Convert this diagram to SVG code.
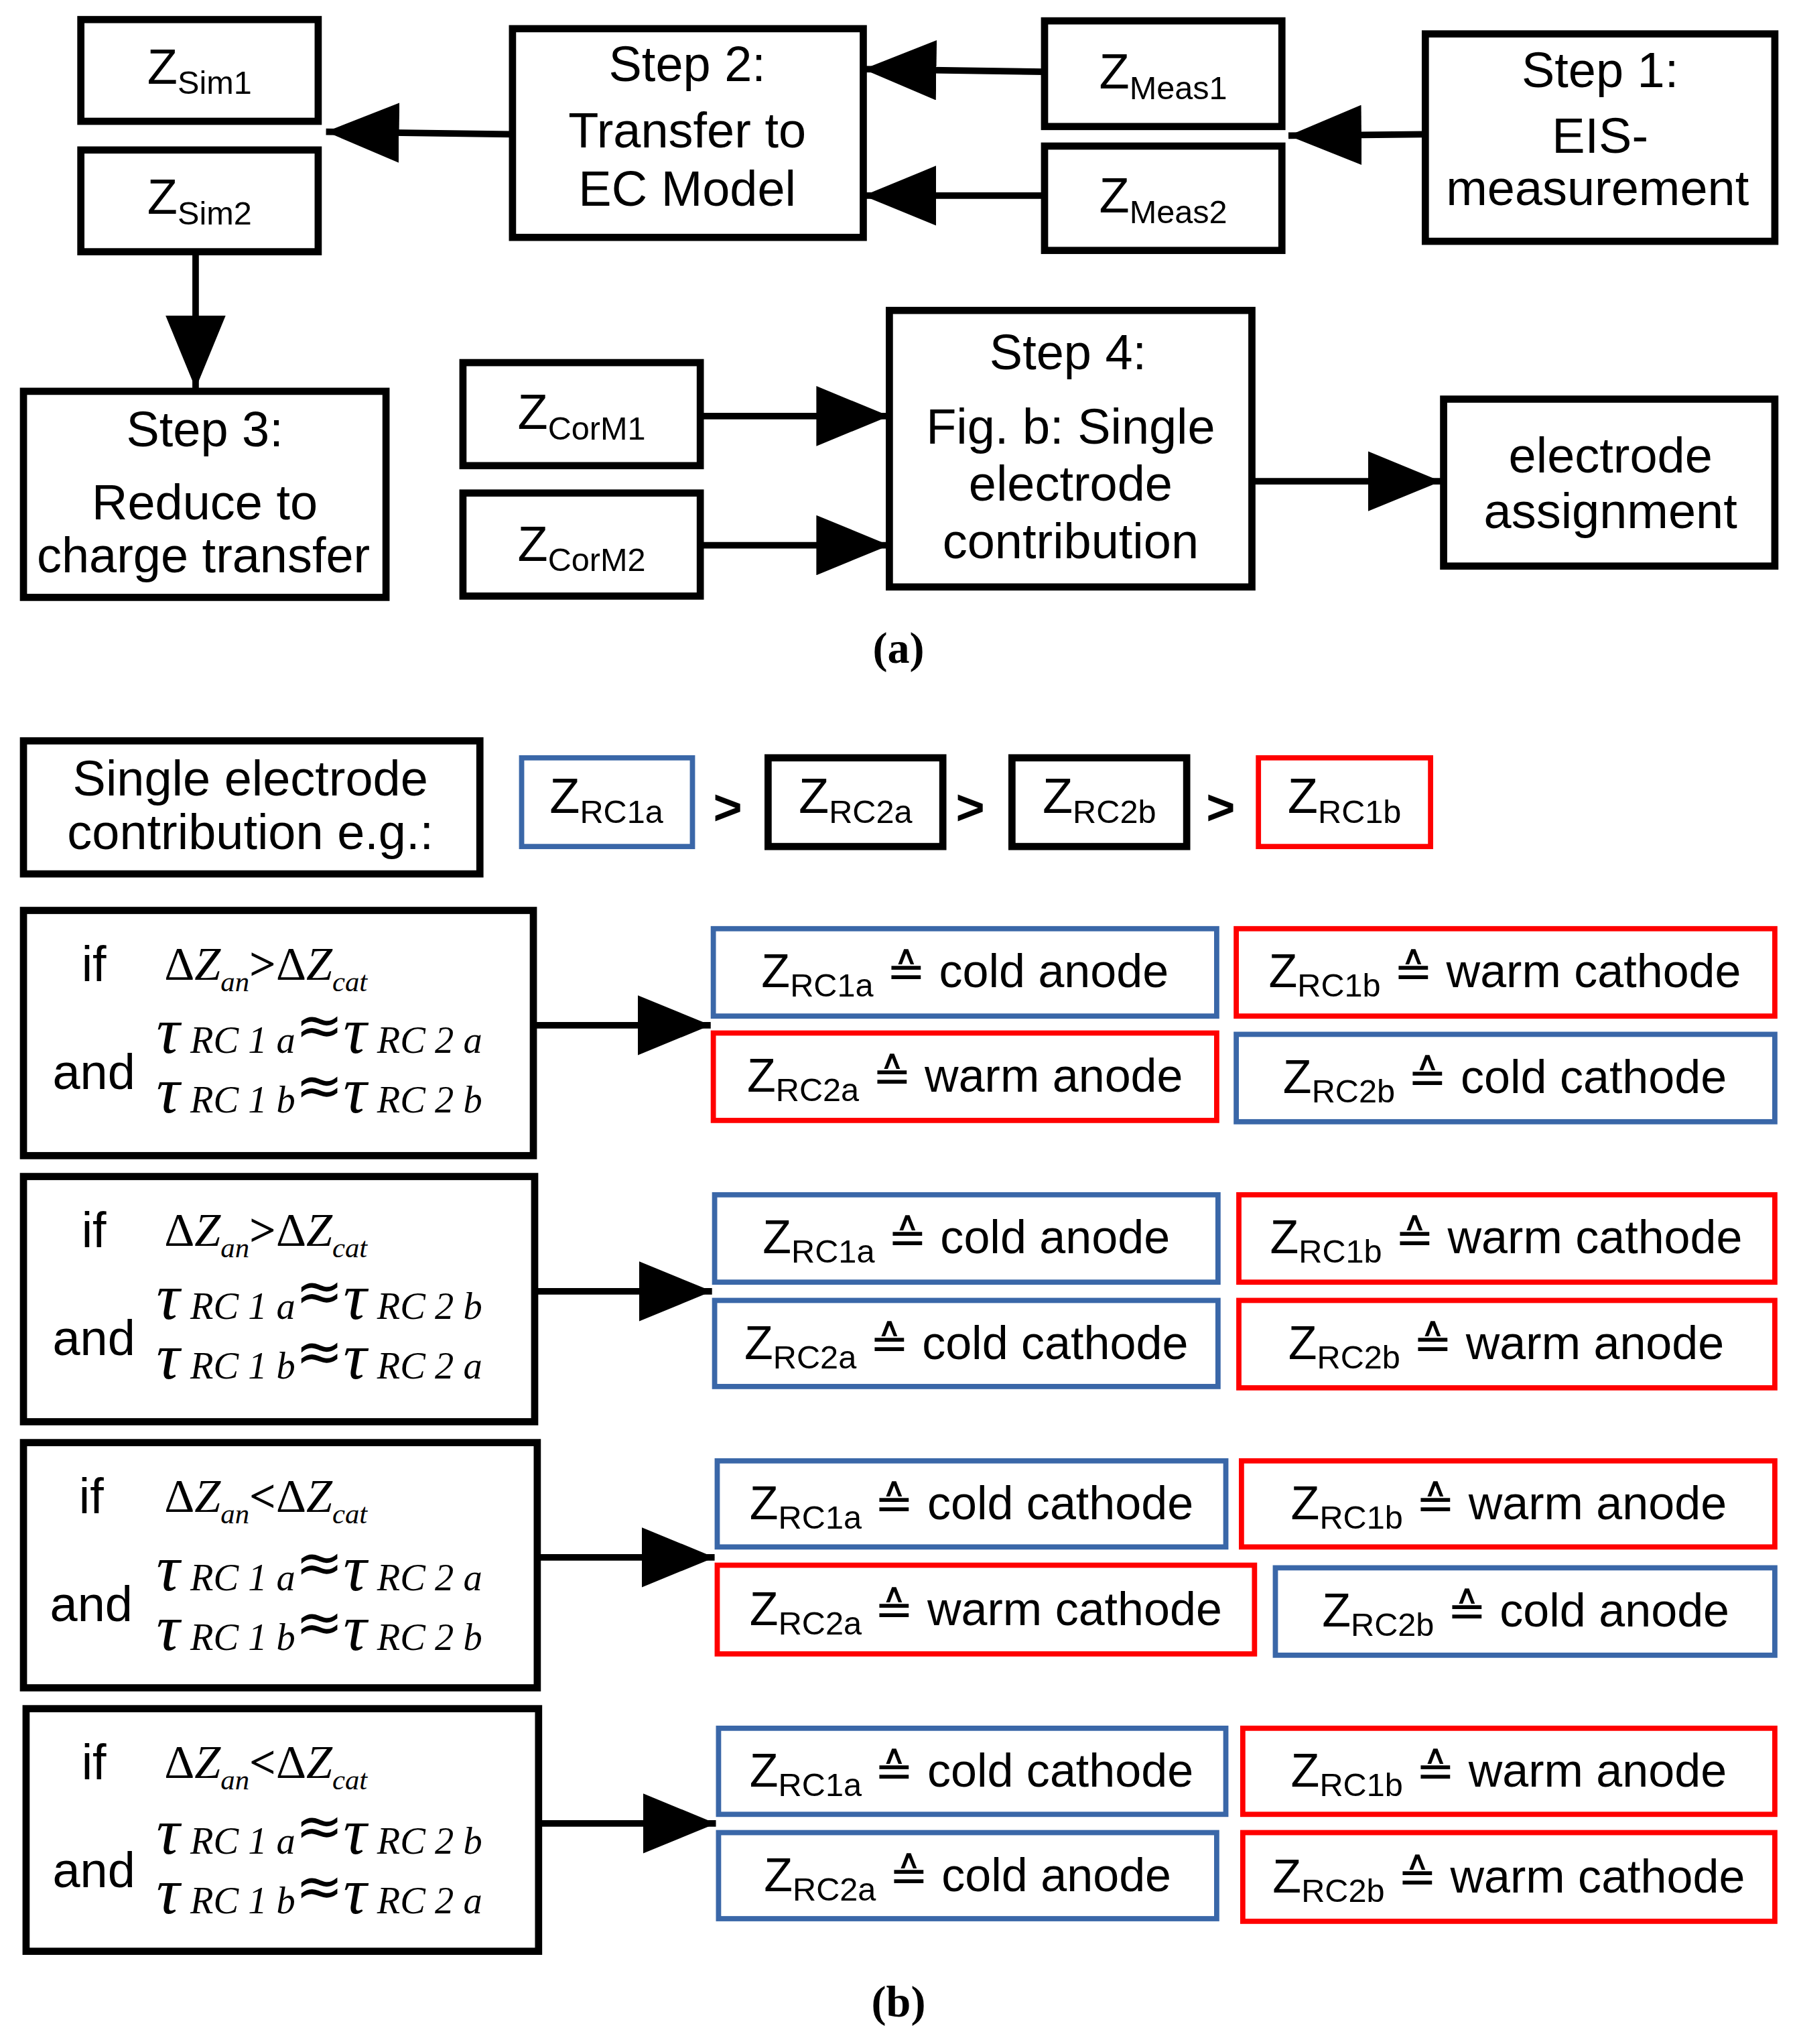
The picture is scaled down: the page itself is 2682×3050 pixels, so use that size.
<svg xmlns="http://www.w3.org/2000/svg" width="2682" height="3050" viewBox="0 0 2682 3050">
<style>
.b{fill:#fff;stroke:#000;stroke-width:5.5}
.bl{fill:#fff;stroke:#3a67a8;stroke-width:4}
.rd{fill:#fff;stroke:#f00;stroke-width:4}
.t{font-family:"Liberation Sans",Arial,sans-serif;font-size:38px;text-anchor:middle;fill:#000}
.s{font-size:25px}
.r{font-family:"Liberation Sans",Arial,sans-serif;font-size:36px;text-anchor:middle;fill:#000}
.m{font-family:"Liberation Serif","Times New Roman",serif;font-style:italic;fill:#000}
.tau{font-size:50px}
.sub{font-size:29px}
.ap{font-size:44px;font-style:normal;font-family:"DejaVu Sans",sans-serif}
.cap{font-family:"Liberation Serif","Times New Roman",serif;font-size:34px;font-weight:bold;text-anchor:middle}
.c{stroke:#000;stroke-width:5;fill:none}
</style>
<defs>
<marker id="ah" viewBox="0 0 10 10" refX="10" refY="5" markerWidth="56" markerHeight="46" markerUnits="userSpaceOnUse" orient="auto" preserveAspectRatio="none"><path d="M0,0L10,5L0,10z" fill="#000"/></marker></defs>
<g transform="scale(1.9463)">
<g id="connectors">
<path class="c" d="M393,103L250,101" marker-end="url(#ah)"/>
<path class="c" d="M801,55L662,53" marker-end="url(#ah)"/>
<path class="c" d="M801,150L662,150" marker-end="url(#ah)"/>
<path class="c" d="M1093,103L988,104" marker-end="url(#ah)"/>
<path class="c" d="M150,195L150,298" marker-end="url(#ah)"/>
<path class="c" d="M537,319L682,319" marker-end="url(#ah)"/>
<path class="c" d="M537,418L682,418" marker-end="url(#ah)"/>
<path class="c" d="M960,369L1105,369" marker-end="url(#ah)"/>
<path class="c" d="M409,786L545,786" marker-end="url(#ah)"/>
<path class="c" d="M410,990L546,990" marker-end="url(#ah)"/>
<path class="c" d="M412,1194L548,1194" marker-end="url(#ah)"/>
<path class="c" d="M413,1398L549,1398" marker-end="url(#ah)"/>
</g>
<g id="zsim1"><rect class="b" x="62" y="15" width="182" height="78"/><text class="t" x="153" y="64">Z<tspan class="s" dy="8">Sim1</tspan></text></g>
<g id="zsim2"><rect class="b" x="62" y="115" width="182" height="78"/><text class="t" x="153" y="164">Z<tspan class="s" dy="8">Sim2</tspan></text></g>
<g id="step2"><rect class="b" x="393" y="22" width="269" height="160"/><text class="t" x="527" y="62">Step 2:</text><text class="t" x="527" y="113">Transfer to</text><text class="t" x="527" y="158">EC Model</text></g>
<g id="zmeas1"><rect class="b" x="801" y="16" width="182" height="81"/><text class="t" x="892" y="68">Z<tspan class="s" dy="8">Meas1</tspan></text></g>
<g id="zmeas2"><rect class="b" x="801" y="112" width="182" height="80"/><text class="t" x="892" y="163">Z<tspan class="s" dy="8">Meas2</tspan></text></g>
<g id="step1"><rect class="b" x="1093" y="26" width="268" height="159"/><text class="t" x="1227" y="67">Step 1:</text><text class="t" x="1227" y="117">EIS-</text><text class="t" x="1225" y="157">measurement</text></g>
<g id="step3"><rect class="b" x="18" y="300" width="278" height="158"/><text class="t" x="157" y="342">Step 3:</text><text class="t" x="157" y="398">Reduce to</text><text class="t" x="156" y="439">charge transfer</text></g>
<g id="zcorm1"><rect class="b" x="355" y="278" width="182" height="79"/><text class="t" x="446" y="329">Z<tspan class="s" dy="8">CorM1</tspan></text></g>
<g id="zcorm2"><rect class="b" x="355" y="378" width="182" height="79"/><text class="t" x="446" y="430">Z<tspan class="s" dy="8">CorM2</tspan></text></g>
<g id="step4"><rect class="b" x="682" y="238" width="278" height="212"/><text class="t" x="819" y="283">Step 4:</text><text class="t" x="821" y="340">Fig. b: Single</text><text class="t" x="821" y="384">electrode</text><text class="t" x="821" y="428">contribution</text></g>
<g id="assign"><rect class="b" x="1107" y="306" width="254" height="128"/><text class="t" x="1235" y="362">electrode</text><text class="t" x="1235" y="405">assignment</text></g>
<text class="cap" x="689" y="508">(a)</text>

<g id="single"><rect class="b" x="18" y="568" width="350" height="102"/><text class="t" x="192" y="610">Single electrode</text><text class="t" x="192" y="651">contribution e.g.:</text></g>
<g id="o1"><rect class="bl" x="400" y="581" width="131" height="68"/><text class="t" x="465" y="623">Z<tspan class="s" dy="8">RC1a</tspan></text></g>
<text class="t" x="558" y="632" font-weight="bold" font-size="42">&gt;</text>
<g id="o2"><rect class="b" x="589" y="581" width="134" height="68"/><text class="t" x="656" y="623">Z<tspan class="s" dy="8">RC2a</tspan></text></g>
<text class="t" x="744" y="632" font-weight="bold" font-size="42">&gt;</text>
<g id="o3"><rect class="b" x="776" y="581" width="134" height="68"/><text class="t" x="843" y="623">Z<tspan class="s" dy="8">RC2b</tspan></text></g>
<text class="t" x="936" y="632" font-weight="bold" font-size="42">&gt;</text>
<g id="o4"><rect class="rd" x="965" y="581" width="132" height="68"/><text class="t" x="1031" y="623">Z<tspan class="s" dy="8">RC1b</tspan></text></g>

<g id="cond1"><rect class="b" x="18" y="698" width="391" height="188"/>
<text class="t" x="72" y="752">if</text><text class="t" x="72" y="835">and</text>
<text class="m" x="126" y="751" font-size="36"><tspan font-style="normal">Δ</tspan>Z<tspan font-size="22" dy="9">an</tspan><tspan dy="-9" font-style="normal" font-weight="bold">&gt;</tspan><tspan font-style="normal">Δ</tspan>Z<tspan font-size="22" dy="9">cat</tspan></text>
<text class="m" x="120" y="807"><tspan class="tau">τ</tspan><tspan class="sub" dx="8">RC 1 a</tspan><tspan class="ap" dy="-6">≈</tspan><tspan class="tau" dy="6">τ</tspan><tspan class="sub" dx="8">RC 2 a</tspan></text>
<text class="m" x="120" y="853"><tspan class="tau">τ</tspan><tspan class="sub" dx="8">RC 1 b</tspan><tspan class="ap" dy="-6">≈</tspan><tspan class="tau" dy="6">τ</tspan><tspan class="sub" dx="8">RC 2 b</tspan></text></g>
<g id="cond2"><rect class="b" x="18" y="902" width="392" height="188"/>
<text class="t" x="72" y="956">if</text><text class="t" x="72" y="1039">and</text>
<text class="m" x="126" y="955" font-size="36"><tspan font-style="normal">Δ</tspan>Z<tspan font-size="22" dy="9">an</tspan><tspan dy="-9" font-style="normal" font-weight="bold">&gt;</tspan><tspan font-style="normal">Δ</tspan>Z<tspan font-size="22" dy="9">cat</tspan></text>
<text class="m" x="120" y="1011"><tspan class="tau">τ</tspan><tspan class="sub" dx="8">RC 1 a</tspan><tspan class="ap" dy="-6">≈</tspan><tspan class="tau" dy="6">τ</tspan><tspan class="sub" dx="8">RC 2 b</tspan></text>
<text class="m" x="120" y="1057"><tspan class="tau">τ</tspan><tspan class="sub" dx="8">RC 1 b</tspan><tspan class="ap" dy="-6">≈</tspan><tspan class="tau" dy="6">τ</tspan><tspan class="sub" dx="8">RC 2 a</tspan></text></g>
<g id="cond3"><rect class="b" x="18" y="1106" width="394" height="188"/>
<text class="t" x="70" y="1160">if</text><text class="t" x="70" y="1243">and</text>
<text class="m" x="126" y="1159" font-size="36"><tspan font-style="normal">Δ</tspan>Z<tspan font-size="22" dy="9">an</tspan><tspan dy="-9" font-style="normal" font-weight="bold">&lt;</tspan><tspan font-style="normal">Δ</tspan>Z<tspan font-size="22" dy="9">cat</tspan></text>
<text class="m" x="120" y="1219"><tspan class="tau">τ</tspan><tspan class="sub" dx="8">RC 1 a</tspan><tspan class="ap" dy="-6">≈</tspan><tspan class="tau" dy="6">τ</tspan><tspan class="sub" dx="8">RC 2 a</tspan></text>
<text class="m" x="120" y="1265"><tspan class="tau">τ</tspan><tspan class="sub" dx="8">RC 1 b</tspan><tspan class="ap" dy="-6">≈</tspan><tspan class="tau" dy="6">τ</tspan><tspan class="sub" dx="8">RC 2 b</tspan></text></g>
<g id="cond4"><rect class="b" x="20" y="1310" width="393" height="186"/>
<text class="t" x="72" y="1364">if</text><text class="t" x="72" y="1447">and</text>
<text class="m" x="126" y="1363" font-size="36"><tspan font-style="normal">Δ</tspan>Z<tspan font-size="22" dy="9">an</tspan><tspan dy="-9" font-style="normal" font-weight="bold">&lt;</tspan><tspan font-style="normal">Δ</tspan>Z<tspan font-size="22" dy="9">cat</tspan></text>
<text class="m" x="120" y="1421"><tspan class="tau">τ</tspan><tspan class="sub" dx="8">RC 1 a</tspan><tspan class="ap" dy="-6">≈</tspan><tspan class="tau" dy="6">τ</tspan><tspan class="sub" dx="8">RC 2 b</tspan></text>
<text class="m" x="120" y="1467"><tspan class="tau">τ</tspan><tspan class="sub" dx="8">RC 1 b</tspan><tspan class="ap" dy="-6">≈</tspan><tspan class="tau" dy="6">τ</tspan><tspan class="sub" dx="8">RC 2 a</tspan></text></g>

<g id="r1a"><rect class="bl" x="547" y="712" width="386" height="67"/><text class="r" x="740" y="757">Z<tspan class="s" dy="7">RC1a</tspan><tspan dy="-7"> ≙ cold anode</tspan></text></g>
<g id="r1b"><rect class="rd" x="948" y="712" width="413" height="67"/><text class="r" x="1154" y="757">Z<tspan class="s" dy="7">RC1b</tspan><tspan dy="-7"> ≙ warm cathode</tspan></text></g>
<g id="r1c"><rect class="rd" x="547" y="792" width="386" height="67"/><text class="r" x="740" y="837">Z<tspan class="s" dy="7">RC2a</tspan><tspan dy="-7"> ≙ warm anode</tspan></text></g>
<g id="r1d"><rect class="bl" x="948" y="793" width="413" height="67"/><text class="r" x="1154" y="838">Z<tspan class="s" dy="7">RC2b</tspan><tspan dy="-7"> ≙ cold cathode</tspan></text></g>

<g id="r2a"><rect class="bl" x="548" y="916" width="386" height="67"/><text class="r" x="741" y="961">Z<tspan class="s" dy="7">RC1a</tspan><tspan dy="-7"> ≙ cold anode</tspan></text></g>
<g id="r2b"><rect class="rd" x="950" y="916" width="411" height="67"/><text class="r" x="1155" y="961">Z<tspan class="s" dy="7">RC1b</tspan><tspan dy="-7"> ≙ warm cathode</tspan></text></g>
<g id="r2c"><rect class="bl" x="548" y="997" width="386" height="66"/><text class="r" x="741" y="1042">Z<tspan class="s" dy="7">RC2a</tspan><tspan dy="-7"> ≙ cold cathode</tspan></text></g>
<g id="r2d"><rect class="rd" x="950" y="997" width="411" height="67"/><text class="r" x="1155" y="1042">Z<tspan class="s" dy="7">RC2b</tspan><tspan dy="-7"> ≙ warm anode</tspan></text></g>

<g id="r3a"><rect class="bl" x="550" y="1120" width="390" height="66"/><text class="r" x="745" y="1165">Z<tspan class="s" dy="7">RC1a</tspan><tspan dy="-7"> ≙ cold cathode</tspan></text></g>
<g id="r3b"><rect class="rd" x="952" y="1120" width="409" height="66"/><text class="r" x="1157" y="1165">Z<tspan class="s" dy="7">RC1b</tspan><tspan dy="-7"> ≙ warm anode</tspan></text></g>
<g id="r3c"><rect class="rd" x="550" y="1200" width="412" height="68"/><text class="r" x="756" y="1246">Z<tspan class="s" dy="7">RC2a</tspan><tspan dy="-7"> ≙ warm cathode</tspan></text></g>
<g id="r3d"><rect class="bl" x="978" y="1202" width="383" height="67"/><text class="r" x="1170" y="1247">Z<tspan class="s" dy="7">RC2b</tspan><tspan dy="-7"> ≙ cold anode</tspan></text></g>

<g id="r4a"><rect class="bl" x="551" y="1325" width="389" height="66"/><text class="r" x="745" y="1370">Z<tspan class="s" dy="7">RC1a</tspan><tspan dy="-7"> ≙ cold cathode</tspan></text></g>
<g id="r4b"><rect class="rd" x="953" y="1325" width="408" height="66"/><text class="r" x="1157" y="1370">Z<tspan class="s" dy="7">RC1b</tspan><tspan dy="-7"> ≙ warm anode</tspan></text></g>
<g id="r4c"><rect class="bl" x="551" y="1405" width="382" height="66"/><text class="r" x="742" y="1450">Z<tspan class="s" dy="7">RC2a</tspan><tspan dy="-7"> ≙ cold anode</tspan></text></g>
<g id="r4d"><rect class="rd" x="953" y="1405" width="408" height="68"/><text class="r" x="1157" y="1451">Z<tspan class="s" dy="7">RC2b</tspan><tspan dy="-7"> ≙ warm cathode</tspan></text></g>
<text class="cap" x="689" y="1546">(b)</text>
</g>
</svg>
